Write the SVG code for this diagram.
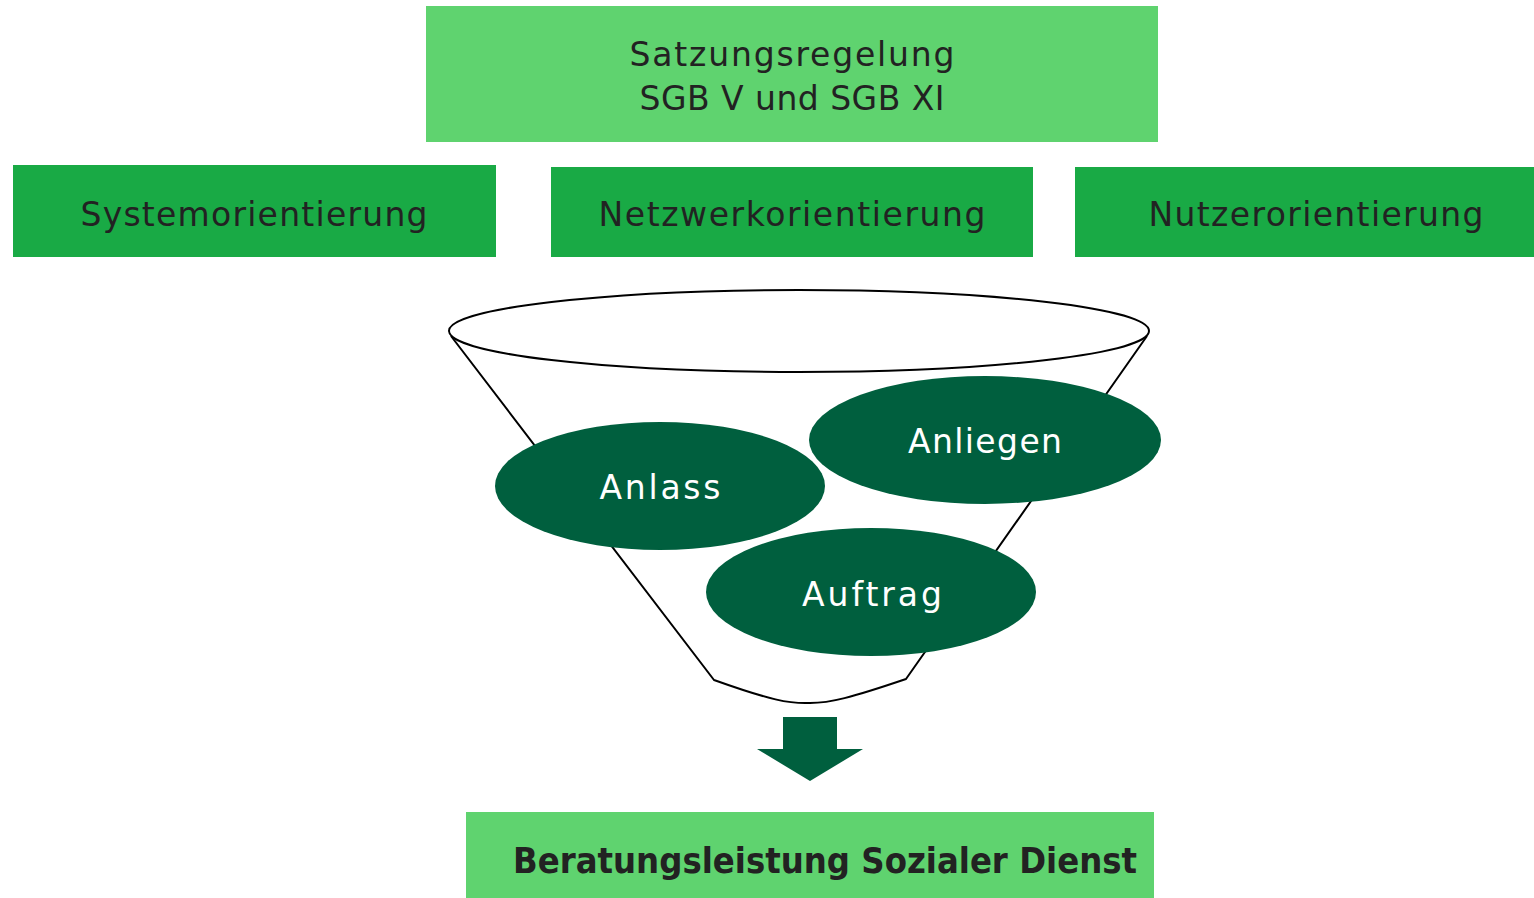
<svg xmlns="http://www.w3.org/2000/svg" width="1534" height="898" viewBox="0 0 1534 898">
<style>
.light{fill:#5fd36f}
.mid{fill:#19aa45}
.dark{fill:#005f3e}
.t{font-family:"DejaVu Sans","Liberation Sans",sans-serif;font-size:33px;fill:#222;text-anchor:middle}
.w{font-family:"DejaVu Sans","Liberation Sans",sans-serif;font-size:33px;fill:#fff;text-anchor:middle}
.b{font-family:"DejaVu Sans","Liberation Sans",sans-serif;font-size:35px;font-weight:bold;fill:#222}
.line{fill:none;stroke:#000;stroke-width:2}
</style>
<rect width="1534" height="898" fill="#fff"/>
<g id="satzung">
<rect class="light" x="426" y="6" width="732" height="136"/>
<text class="t" x="792" y="66" textLength="325">Satzungsregelung</text>
<text class="t" x="792" y="110" textLength="305">SGB V und SGB XI</text>
</g>
<g id="system">
<rect class="mid" x="13" y="165" width="483" height="92"/>
<text class="t" x="254" y="226" textLength="347">Systemorientierung</text>
</g>
<g id="netzwerk">
<rect class="mid" x="551" y="167" width="482" height="90"/>
<text class="t" x="792" y="226" textLength="387">Netzwerkorientierung</text>
</g>
<g id="nutzer">
<rect class="mid" x="1075" y="167" width="459" height="90"/>
<text class="t" x="1316" y="226" textLength="335">Nutzerorientierung</text>
</g>
<g id="funnel">
<ellipse class="line" cx="799" cy="331" rx="350" ry="41" fill="#fff"/>
<path class="line" d="M451,336 L714,680 C770,700 790,704 810,703 C830,703 850,698 906,679 L1147,336"/>
</g>
<g id="anlass">
<ellipse class="dark" cx="660" cy="486" rx="165" ry="64"/>
<text class="w" x="660" y="499" textLength="121">Anlass</text>
</g>
<g id="anliegen">
<ellipse class="dark" cx="985" cy="440" rx="176" ry="64"/>
<text class="w" x="985" y="453" textLength="154">Anliegen</text>
</g>
<g id="auftrag">
<ellipse class="dark" cx="871" cy="592" rx="165" ry="64"/>
<text class="w" x="872" y="606" textLength="140">Auftrag</text>
</g>
<g id="connectors">
<polygon class="dark" points="783,717 837,717 837,749 863,749 810,781 757,749 783,749"/>
</g>
<g id="beratung">
<rect class="light" x="466" y="812" width="688" height="86"/>
<text class="b" x="513" y="873" textLength="624" lengthAdjust="spacingAndGlyphs">Beratungsleistung Sozialer Dienst</text>
</g>
</svg>
